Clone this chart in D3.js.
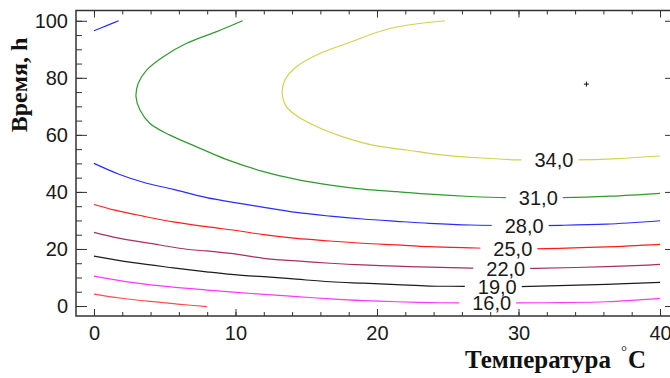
<!DOCTYPE html>
<html>
<head>
<meta charset="utf-8">
<script src="https://cdn.jsdelivr.net/npm/d3@7"></script>
<style>
  html, body { margin: 0; padding: 0; background: #fff; }
  svg { display: block; }
</style>
</head>
<body>
<script>
// Contour levels of the response surface (yield vs. temperature and time)
const levels = [34, 31, 28, 25, 22, 19, 16, 13];

// Contour lines, each as [temperature °C, time h] points
const line34 = [[24.8,100],[20.9,97.3],[17.9,92.1],[16.0,88.6],[14.3,83.9],[13.5,79.2],[13.3,74.6],[13.6,69.9],[14.4,66.4],[16.0,62.3],[17.6,59.3],[19.7,56.4],[22.1,54.7],[24.7,52.9],[27.0,52.0],[30.1,51.2],[33.9,51.2],[37.0,51.7],[40.0,52.6]];
const line31 = [[10.5,100],[8.67,96.2],[6.55,92.1],[4.9,87.4],[3.72,82.7],[3.13,78.1],[2.97,73.4],[3.25,68.7],[3.96,64.0],[5.37,59.9],[7.26,55.8],[9.3,51.5],[12.0,47.1],[14.3,44.4],[16.7,42.4],[19.0,41.0],[21.4,40.1],[23.7,39.2],[26.6,38.4],[29.2,38.0],[33.1,38.0],[36.5,38.5],[40.0,39.5]];
const line28 = [[0,50.0],[1.72,46.3],[3.48,43.4],[5.6,40.9],[7.96,38.0],[10.3,36.0],[12.0,34.6],[14.3,32.8],[16.7,31.5],[19.0,30.5],[21.4,29.7],[23.7,29.0],[26.6,28.4],[30.0,28.2],[33.0,28.3],[36.2,28.7],[40.0,29.9]];
const line28top = [[0,96.5],[0.9,98.3],[1.75,100]];
const line25 = [[0,35.6],[1.48,33.6],[3.48,31.5],[5.6,29.5],[7.96,27.8],[10.3,26.3],[12.0,25.0],[14.3,23.7],[16.7,22.8],[19.0,22.0],[21.4,21.4],[23.7,20.8],[26.6,20.4],[29.5,20.1],[32.0,20.1],[36.2,20.7],[40.0,21.6]];
const line22 = [[0,25.8],[1.84,23.7],[4.66,21.4],[6.55,19.9],[7.96,19.3],[10.3,18.0],[12.0,16.7],[14.3,15.8],[16.7,15.0],[19.0,14.4],[21.4,14.0],[23.7,13.6],[26.7,13.3],[29.0,13.1],[31.2,13.2],[36.2,13.8],[40.0,14.6]];
const line19 = [[0,17.5],[2.78,15.2],[5.6,13.4],[7.96,12.0],[10.3,10.8],[12.0,10.3],[14.3,9.4],[16.7,8.5],[19.0,8.0],[21.4,7.5],[23.7,7.0],[26.1,6.9],[28.5,6.7],[30.1,6.8],[36.2,7.6],[40.0,8.3]];
const line16 = [[0,10.5],[2.78,8.2],[5.6,6.6],[7.96,5.6],[10.3,4.7],[12.0,4.1],[14.3,3.3],[16.7,2.5],[19.0,1.9],[21.4,1.5],[23.7,1.2],[26.0,1.1],[28.0,1.0],[29.8,1.1],[33.0,1.2],[36.2,1.5],[40.0,2.7]];
const line13 = [[0,4.2],[1.84,2.8],[3.96,1.6],[6.08,0.6],[8.0,-0.2]];

const contourLines = [line34, line31, line28, line25, line22, line19, line16, line13];
const extraPieces = [{ level: 28, points: line28top }];

// Temperature at which each level is labelled (null = unlabelled)
const labelTemps = [32.5, 31.4, 30.4, 29.6, 29.1, 28.5, 28.1, null];

// Optimum point of the surface
const optimum = [34.8, 77.8];

// Axis ticks
const xMajorTicks = [0, 10, 20, 30, 40];
const xMinorTicks = d3.range(0, 41, 2);
const yMajorTicks = [0, 20, 40, 60, 80, 100];
const yMinorTicks = d3.range(0, 101, 5);

const levelColors = {
  34: "#d2d24e", 31: "#2f9a2f", 28: "#2b2bff", 25: "#ff1c1c",
  22: "#a8305e", 19: "#1c1c1c", 16: "#ff38ff", 13: "#ff4c4c"
};

const W = 670, H = 378;
const plot = { left: 76, right: 676, top: 10.5, bottom: 316 };

const x = d3.scaleLinear().domain([-1.27, 41.13]).range([plot.left, plot.right]);
const y = d3.scaleLinear().domain([-3.5, 103.6]).range([plot.bottom, plot.top]);

const commaFmt = d3.formatLocale({ decimal: ",", thousands: " ", grouping: [3], currency: ["", ""] }).format(".1f");

const svg = d3.select("body").append("svg").attr("width", W).attr("height", H);

svg.append("defs").append("clipPath").attr("id", "plot-clip")
  .append("rect")
  .attr("x", plot.left).attr("y", plot.top)
  .attr("width", plot.right - plot.left).attr("height", plot.bottom - plot.top);

const lineGen = d3.line().x(d => x(d[0])).y(d => y(d[1])).curve(d3.curveCatmullRom.alpha(0.5));

const gLines = svg.append("g").attr("clip-path", "url(#plot-clip)");

const pieces = levels.map((lv, i) => ({ level: lv, points: contourLines[i] })).concat(extraPieces);

gLines.selectAll("path.contour")
  .data(pieces)
  .join("path")
  .attr("class", "contour")
  .attr("d", d => lineGen(d.points))
  .attr("fill", "none")
  .attr("stroke", d => levelColors[d.level])
  .attr("stroke-width", 1.2);

// Time on a contour at a given temperature (last crossing along the line)
function timeAt(points, t) {
  let val = null;
  for (let i = 0; i < points.length - 1; i++) {
    const [x0, y0] = points[i], [x1, y1] = points[i + 1];
    if ((t - x0) * (t - x1) <= 0 && x0 !== x1) {
      val = y0 + (y1 - y0) * (t - x0) / (x1 - x0);
    }
  }
  return val;
}

// Level labels, each sitting in a gap cut into its line
const labels = levels.map((lv, i) => labelTemps[i] == null ? null : {
  level: lv, t: labelTemps[i], h: timeAt(contourLines[i], labelTemps[i])
}).filter(d => d);

const gLabels = svg.append("g");
labels.forEach(d => {
  const cx = x(d.t), cy = y(d.h);
  const txt = gLabels.append("text")
    .attr("x", cx).attr("y", cy)
    .attr("dy", "0.36em")
    .attr("text-anchor", "middle")
    .attr("font-family", "'Liberation Sans', Arial, sans-serif")
    .attr("font-size", 20)
    .attr("fill", "#1a1a1a")
    .text(commaFmt(d.level));
  const w = txt.node().getComputedTextLength();
  gLabels.insert("rect", "text")
    .attr("x", cx - w / 2 - 13).attr("y", cy - 5)
    .attr("width", w + 18).attr("height", 10)
    .attr("fill", "#fff");
});

// Optimum marker
svg.append("path")
  .attr("d", `M${x(optimum[0]) - 2.5},${y(optimum[1])}h5M${x(optimum[0])},${y(optimum[1]) - 2.5}v5`)
  .attr("stroke", "#111").attr("stroke-width", 1);

// Axes (ticks point inward)
const axisColor = "#333";
function styleAxis(g) {
  g.select(".domain").remove();
  g.selectAll(".tick line").attr("stroke", axisColor);
  g.selectAll(".tick text")
    .attr("font-family", "'Liberation Sans', Arial, sans-serif")
    .attr("font-size", 20)
    .attr("fill", "#1a1a1a");
}

svg.append("g").attr("transform", `translate(0,${plot.bottom})`)
  .call(d3.axisBottom(x).tickValues(xMinorTicks).tickSize(-4).tickFormat("")).call(styleAxis);
svg.append("g").attr("transform", `translate(0,${plot.bottom})`)
  .call(d3.axisBottom(x).tickValues(xMajorTicks).tickSize(-7).tickPadding(10).tickFormat(d3.format("d"))).call(styleAxis);

svg.append("g").attr("transform", `translate(0,${plot.top})`)
  .call(d3.axisTop(x).tickValues(xMinorTicks).tickSize(-4).tickFormat("")).call(styleAxis);
svg.append("g").attr("transform", `translate(0,${plot.top})`)
  .call(d3.axisTop(x).tickValues(xMajorTicks).tickSize(-7).tickFormat("")).call(styleAxis);

svg.append("g").attr("transform", `translate(${plot.left},0)`)
  .call(d3.axisLeft(y).tickValues(yMinorTicks).tickSize(-6).tickFormat("")).call(styleAxis);
svg.append("g").attr("transform", `translate(${plot.left},0)`)
  .call(d3.axisLeft(y).tickValues(yMajorTicks).tickSize(-11).tickPadding(8).tickFormat(d3.format("d"))).call(styleAxis);

svg.append("g").attr("transform", `translate(${plot.right},0)`)
  .call(d3.axisRight(y).tickValues(yMajorTicks).tickSize(-11).tickFormat("")).call(styleAxis);

// Frame
svg.append("rect")
  .attr("x", plot.left).attr("y", plot.top)
  .attr("width", plot.right - plot.left).attr("height", plot.bottom - plot.top)
  .attr("fill", "none").attr("stroke", axisColor).attr("stroke-width", 1.5);

// Axis titles
svg.append("text")
  .attr("transform", `translate(27,85) rotate(-90)`)
  .attr("text-anchor", "middle")
  .attr("font-family", "'Liberation Serif', 'Times New Roman', serif")
  .attr("font-weight", "bold")
  .attr("font-size", 24)
  .attr("fill", "#111")
  .text("Время, h");

const xt = svg.append("text")
  .attr("x", 465).attr("y", 368)
  .attr("font-family", "'Liberation Serif', 'Times New Roman', serif")
  .attr("font-weight", "bold")
  .attr("font-size", 25)
  .attr("fill", "#111");
xt.append("tspan").text("Температура");
xt.append("tspan").attr("dx", 10).attr("dy", -12).attr("font-size", 15).attr("font-weight", "normal").text("°");
xt.append("tspan").attr("dx", 1).attr("dy", 12).text("C");
</script>
</body>
</html>
